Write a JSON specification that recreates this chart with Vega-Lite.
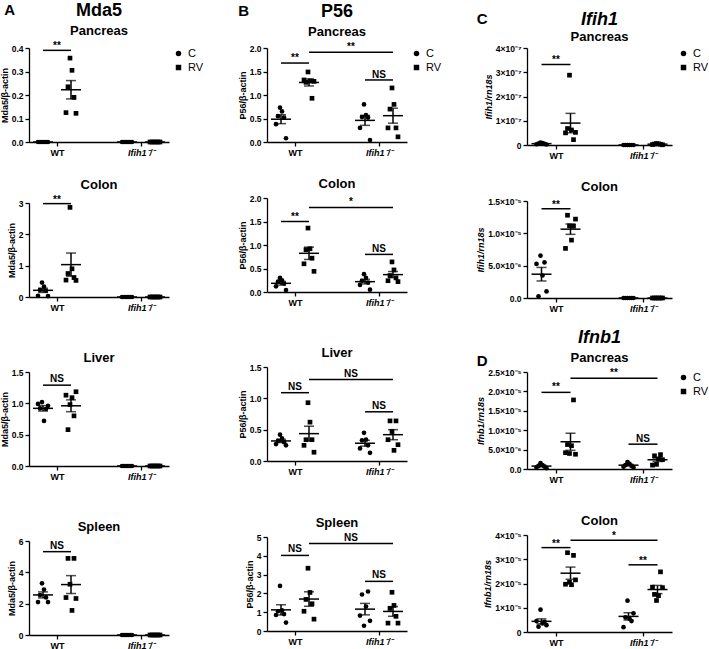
{
"$schema": "https://vega.github.io/schema/vega-lite/v6.json",
"background": "white",
"padding": {"left": 0, "top": 2, "right": 0, "bottom": 0},
"config": {
 "font": "Liberation Sans",
 "view": {"stroke": null},
 "axis": {"grid": false, "labelOverlap": false, "domainColor": "black", "domainWidth": 1.3, "tickColor": "black", "tickWidth": 1.3, "tickSize": 4, "labelColor": "black", "labelFontSize": 8.5, "labelFontWeight": "bold", "titleColor": "black", "titleFontSize": 9, "titleFontWeight": "bold", "labelPadding": 2, "titlePadding": 2},
 "axisX": {"labelFontSize": 9},
 "title": {"fontSize": 13, "fontWeight": "bold", "color": "black", "offset": 3, "subtitleFontSize": 13, "subtitleFontWeight": "bold", "subtitleColor": "black", "subtitlePadding": 5},
 "legend": {"labelFontSize": 11, "labelColor": "black"}
},
"datasets": {
 "mda5_pan": [
  {"group":"WT C","cond":"C","rep":1,"value":0},{"group":"WT C","cond":"C","rep":2,"value":0},{"group":"WT C","cond":"C","rep":3,"value":0},{"group":"WT C","cond":"C","rep":4,"value":0},{"group":"WT C","cond":"C","rep":5,"value":0},{"group":"WT C","cond":"C","rep":6,"value":0},
  {"group":"WT RV","cond":"RV","rep":3,"value":0.357},{"group":"WT RV","cond":"RV","rep":4,"value":0.305},{"group":"WT RV","cond":"RV","rep":2,"value":0.235},{"group":"WT RV","cond":"RV","rep":5,"value":0.19},{"group":"WT RV","cond":"RV","rep":1,"value":0.125},{"group":"WT RV","cond":"RV","rep":6,"value":0.122},
  {"group":"KO C","cond":"C","rep":1,"value":0},{"group":"KO C","cond":"C","rep":2,"value":0},{"group":"KO C","cond":"C","rep":3,"value":0},{"group":"KO C","cond":"C","rep":4,"value":0},{"group":"KO C","cond":"C","rep":5,"value":0},{"group":"KO C","cond":"C","rep":6,"value":0},
  {"group":"KO RV","cond":"RV","rep":1,"value":0},{"group":"KO RV","cond":"RV","rep":2,"value":0},{"group":"KO RV","cond":"RV","rep":3,"value":0},{"group":"KO RV","cond":"RV","rep":4,"value":0},{"group":"KO RV","cond":"RV","rep":5,"value":0},{"group":"KO RV","cond":"RV","rep":6,"value":0}
 ],
 "mda5_col": [
  {"group":"WT C","cond":"C","rep":3,"value":0.46},{"group":"WT C","cond":"C","rep":4,"value":0.33},{"group":"WT C","cond":"C","rep":2,"value":0.22},{"group":"WT C","cond":"C","rep":5,"value":0.2},{"group":"WT C","cond":"C","rep":1,"value":0.04},{"group":"WT C","cond":"C","rep":6,"value":0.03},
  {"group":"WT RV","cond":"RV","rep":3,"value":2.86},{"group":"WT RV","cond":"RV","rep":4,"value":0.9},{"group":"WT RV","cond":"RV","rep":2,"value":0.75},{"group":"WT RV","cond":"RV","rep":5,"value":0.62},{"group":"WT RV","cond":"RV","rep":1,"value":0.54},{"group":"WT RV","cond":"RV","rep":6,"value":0.53},
  {"group":"KO C","cond":"C","rep":1,"value":0},{"group":"KO C","cond":"C","rep":2,"value":0},{"group":"KO C","cond":"C","rep":3,"value":0},{"group":"KO C","cond":"C","rep":4,"value":0},{"group":"KO C","cond":"C","rep":5,"value":0},{"group":"KO C","cond":"C","rep":6,"value":0},
  {"group":"KO RV","cond":"RV","rep":1,"value":0},{"group":"KO RV","cond":"RV","rep":2,"value":0},{"group":"KO RV","cond":"RV","rep":3,"value":0},{"group":"KO RV","cond":"RV","rep":4,"value":0},{"group":"KO RV","cond":"RV","rep":5,"value":0},{"group":"KO RV","cond":"RV","rep":6,"value":0}
 ],
 "mda5_liv": [
  {"group":"WT C","cond":"C","rep":3,"value":1.02},{"group":"WT C","cond":"C","rep":1,"value":0.99},{"group":"WT C","cond":"C","rep":6,"value":0.96},{"group":"WT C","cond":"C","rep":2,"value":0.92},{"group":"WT C","cond":"C","rep":5,"value":0.91},{"group":"WT C","cond":"C","rep":4,"value":0.72},
  {"group":"WT RV","cond":"RV","rep":6,"value":1.185},{"group":"WT RV","cond":"RV","rep":1,"value":1.13},{"group":"WT RV","cond":"RV","rep":4,"value":1.09},{"group":"WT RV","cond":"RV","rep":3,"value":0.98},{"group":"WT RV","cond":"RV","rep":5,"value":0.8},{"group":"WT RV","cond":"RV","rep":2,"value":0.58},
  {"group":"KO C","cond":"C","rep":1,"value":0},{"group":"KO C","cond":"C","rep":2,"value":0},{"group":"KO C","cond":"C","rep":3,"value":0},{"group":"KO C","cond":"C","rep":4,"value":0},{"group":"KO C","cond":"C","rep":5,"value":0},{"group":"KO C","cond":"C","rep":6,"value":0},
  {"group":"KO RV","cond":"RV","rep":1,"value":0},{"group":"KO RV","cond":"RV","rep":2,"value":0},{"group":"KO RV","cond":"RV","rep":3,"value":0},{"group":"KO RV","cond":"RV","rep":4,"value":0},{"group":"KO RV","cond":"RV","rep":5,"value":0},{"group":"KO RV","cond":"RV","rep":6,"value":0}
 ],
 "mda5_spl": [
  {"group":"WT C","cond":"C","rep":3,"value":3.3},{"group":"WT C","cond":"C","rep":4,"value":2.9},{"group":"WT C","cond":"C","rep":2,"value":2.55},{"group":"WT C","cond":"C","rep":5,"value":2.4},{"group":"WT C","cond":"C","rep":1,"value":2.1},{"group":"WT C","cond":"C","rep":6,"value":2.1},
  {"group":"WT RV","cond":"RV","rep":2,"value":4.89},{"group":"WT RV","cond":"RV","rep":5,"value":4.89},{"group":"WT RV","cond":"RV","rep":3,"value":3.24},{"group":"WT RV","cond":"RV","rep":1,"value":2.39},{"group":"WT RV","cond":"RV","rep":6,"value":2.33},{"group":"WT RV","cond":"RV","rep":4,"value":1.57},
  {"group":"KO C","cond":"C","rep":1,"value":0},{"group":"KO C","cond":"C","rep":2,"value":0},{"group":"KO C","cond":"C","rep":3,"value":0},{"group":"KO C","cond":"C","rep":4,"value":0},{"group":"KO C","cond":"C","rep":5,"value":0},{"group":"KO C","cond":"C","rep":6,"value":0},
  {"group":"KO RV","cond":"RV","rep":1,"value":0},{"group":"KO RV","cond":"RV","rep":2,"value":0},{"group":"KO RV","cond":"RV","rep":3,"value":0},{"group":"KO RV","cond":"RV","rep":4,"value":0},{"group":"KO RV","cond":"RV","rep":5,"value":0},{"group":"KO RV","cond":"RV","rep":6,"value":0}
 ],
 "p56_pan": [
  {"group":"WT C","cond":"C","rep":3,"value":0.73},{"group":"WT C","cond":"C","rep":4,"value":0.65},{"group":"WT C","cond":"C","rep":2,"value":0.55},{"group":"WT C","cond":"C","rep":5,"value":0.52},{"group":"WT C","cond":"C","rep":1,"value":0.38},{"group":"WT C","cond":"C","rep":6,"value":0.08},
  {"group":"WT RV","cond":"RV","rep":3,"value":1.49},{"group":"WT RV","cond":"RV","rep":1,"value":1.32},{"group":"WT RV","cond":"RV","rep":4,"value":1.3},{"group":"WT RV","cond":"RV","rep":6,"value":1.29},{"group":"WT RV","cond":"RV","rep":2,"value":1.27},{"group":"WT RV","cond":"RV","rep":5,"value":0.93},
  {"group":"KO C","cond":"C","rep":3,"value":0.8},{"group":"KO C","cond":"C","rep":4,"value":0.57},{"group":"KO C","cond":"C","rep":2,"value":0.53},{"group":"KO C","cond":"C","rep":5,"value":0.52},{"group":"KO C","cond":"C","rep":1,"value":0.3},{"group":"KO C","cond":"C","rep":6,"value":0.04},
  {"group":"KO RV","cond":"RV","rep":3,"value":1.15},{"group":"KO RV","cond":"RV","rep":4,"value":0.8},{"group":"KO RV","cond":"RV","rep":2,"value":0.7},{"group":"KO RV","cond":"RV","rep":5,"value":0.3},{"group":"KO RV","cond":"RV","rep":1,"value":0.3},{"group":"KO RV","cond":"RV","rep":6,"value":0.11}
 ],
 "p56_col": [
  {"group":"WT C","cond":"C","rep":3,"value":0.3},{"group":"WT C","cond":"C","rep":4,"value":0.25},{"group":"WT C","cond":"C","rep":2,"value":0.22},{"group":"WT C","cond":"C","rep":5,"value":0.18},{"group":"WT C","cond":"C","rep":1,"value":0.12},{"group":"WT C","cond":"C","rep":6,"value":0.04},
  {"group":"WT RV","cond":"RV","rep":3,"value":1.36},{"group":"WT RV","cond":"RV","rep":4,"value":0.92},{"group":"WT RV","cond":"RV","rep":2,"value":0.9},{"group":"WT RV","cond":"RV","rep":5,"value":0.72},{"group":"WT RV","cond":"RV","rep":1,"value":0.6},{"group":"WT RV","cond":"RV","rep":6,"value":0.44},
  {"group":"KO C","cond":"C","rep":3,"value":0.38},{"group":"KO C","cond":"C","rep":4,"value":0.3},{"group":"KO C","cond":"C","rep":2,"value":0.24},{"group":"KO C","cond":"C","rep":5,"value":0.2},{"group":"KO C","cond":"C","rep":1,"value":0.15},{"group":"KO C","cond":"C","rep":6,"value":0.05},
  {"group":"KO RV","cond":"RV","rep":3,"value":0.64},{"group":"KO RV","cond":"RV","rep":4,"value":0.47},{"group":"KO RV","cond":"RV","rep":2,"value":0.35},{"group":"KO RV","cond":"RV","rep":5,"value":0.3},{"group":"KO RV","cond":"RV","rep":1,"value":0.24},{"group":"KO RV","cond":"RV","rep":6,"value":0.22}
 ],
 "p56_liv": [
  {"group":"WT C","cond":"C","rep":3,"value":0.42},{"group":"WT C","cond":"C","rep":4,"value":0.36},{"group":"WT C","cond":"C","rep":2,"value":0.32},{"group":"WT C","cond":"C","rep":5,"value":0.3},{"group":"WT C","cond":"C","rep":1,"value":0.27},{"group":"WT C","cond":"C","rep":6,"value":0.25},
  {"group":"WT RV","cond":"RV","rep":3,"value":0.93},{"group":"WT RV","cond":"RV","rep":4,"value":0.62},{"group":"WT RV","cond":"RV","rep":2,"value":0.34},{"group":"WT RV","cond":"RV","rep":5,"value":0.34},{"group":"WT RV","cond":"RV","rep":1,"value":0.25},{"group":"WT RV","cond":"RV","rep":6,"value":0.14},
  {"group":"KO C","cond":"C","rep":3,"value":0.45},{"group":"KO C","cond":"C","rep":4,"value":0.34},{"group":"KO C","cond":"C","rep":2,"value":0.33},{"group":"KO C","cond":"C","rep":5,"value":0.25},{"group":"KO C","cond":"C","rep":1,"value":0.2},{"group":"KO C","cond":"C","rep":6,"value":0.13},
  {"group":"KO RV","cond":"RV","rep":2,"value":0.64},{"group":"KO RV","cond":"RV","rep":5,"value":0.64},{"group":"KO RV","cond":"RV","rep":3,"value":0.47},{"group":"KO RV","cond":"RV","rep":1,"value":0.34},{"group":"KO RV","cond":"RV","rep":6,"value":0.26},{"group":"KO RV","cond":"RV","rep":4,"value":0.17}
 ],
 "p56_spl": [
  {"group":"WT C","cond":"C","rep":3,"value":2.4},{"group":"WT C","cond":"C","rep":4,"value":1.1},{"group":"WT C","cond":"C","rep":2,"value":1.05},{"group":"WT C","cond":"C","rep":5,"value":0.9},{"group":"WT C","cond":"C","rep":1,"value":0.85},{"group":"WT C","cond":"C","rep":6,"value":0.45},
  {"group":"WT RV","cond":"RV","rep":3,"value":3.34},{"group":"WT RV","cond":"RV","rep":4,"value":2.05},{"group":"WT RV","cond":"RV","rep":2,"value":1.68},{"group":"WT RV","cond":"RV","rep":5,"value":1.45},{"group":"WT RV","cond":"RV","rep":1,"value":1.05},{"group":"WT RV","cond":"RV","rep":6,"value":0.63},
  {"group":"KO C","cond":"C","rep":5,"value":2.1},{"group":"KO C","cond":"C","rep":2,"value":1.94},{"group":"KO C","cond":"C","rep":4,"value":1.3},{"group":"KO C","cond":"C","rep":1,"value":0.82},{"group":"KO C","cond":"C","rep":6,"value":0.54},{"group":"KO C","cond":"C","rep":3,"value":0.28},
  {"group":"KO RV","cond":"RV","rep":3,"value":2.06},{"group":"KO RV","cond":"RV","rep":4,"value":1.36},{"group":"KO RV","cond":"RV","rep":2,"value":1.2},{"group":"KO RV","cond":"RV","rep":5,"value":0.78},{"group":"KO RV","cond":"RV","rep":1,"value":0.42},{"group":"KO RV","cond":"RV","rep":6,"value":0.42}
 ],
 "ifih1_pan": [
  {"group":"WT C","cond":"C","rep":3,"value":1.0e-8},{"group":"WT C","cond":"C","rep":4,"value":8e-9},{"group":"WT C","cond":"C","rep":2,"value":6e-9},{"group":"WT C","cond":"C","rep":5,"value":5e-9},{"group":"WT C","cond":"C","rep":1,"value":3e-9},{"group":"WT C","cond":"C","rep":6,"value":2e-9},
  {"group":"WT RV","cond":"RV","rep":3,"value":2.88e-7},{"group":"WT RV","cond":"RV","rep":2,"value":6.8e-8},{"group":"WT RV","cond":"RV","rep":4,"value":6.2e-8},{"group":"WT RV","cond":"RV","rep":6,"value":5.2e-8},{"group":"WT RV","cond":"RV","rep":1,"value":5.0e-8},{"group":"WT RV","cond":"RV","rep":5,"value":2.2e-8},
  {"group":"KO C","cond":"C","rep":1,"value":0},{"group":"KO C","cond":"C","rep":2,"value":0},{"group":"KO C","cond":"C","rep":3,"value":0},{"group":"KO C","cond":"C","rep":4,"value":0},{"group":"KO C","cond":"C","rep":5,"value":0},{"group":"KO C","cond":"C","rep":6,"value":0},
  {"group":"KO RV","cond":"RV","rep":3,"value":6e-9},{"group":"KO RV","cond":"RV","rep":4,"value":5e-9},{"group":"KO RV","cond":"RV","rep":2,"value":4e-9},{"group":"KO RV","cond":"RV","rep":5,"value":3e-9},{"group":"KO RV","cond":"RV","rep":1,"value":2e-9},{"group":"KO RV","cond":"RV","rep":6,"value":1e-9}
 ],
 "ifih1_col": [
  {"group":"WT C","cond":"C","rep":3,"value":6.55e-6},{"group":"WT C","cond":"C","rep":5,"value":5.5e-6},{"group":"WT C","cond":"C","rep":1,"value":5.27e-6},{"group":"WT C","cond":"C","rep":4,"value":3.48e-6},{"group":"WT C","cond":"C","rep":6,"value":1.02e-6},{"group":"WT C","cond":"C","rep":2,"value":2.6e-7},
  {"group":"WT RV","cond":"RV","rep":2,"value":1.28e-5},{"group":"WT RV","cond":"RV","rep":6,"value":1.22e-5},{"group":"WT RV","cond":"RV","rep":3,"value":1.115e-5},{"group":"WT RV","cond":"RV","rep":5,"value":1.11e-5},{"group":"WT RV","cond":"RV","rep":4,"value":8.95e-6},{"group":"WT RV","cond":"RV","rep":1,"value":7.67e-6},
  {"group":"KO C","cond":"C","rep":1,"value":0},{"group":"KO C","cond":"C","rep":2,"value":0},{"group":"KO C","cond":"C","rep":3,"value":0},{"group":"KO C","cond":"C","rep":4,"value":0},{"group":"KO C","cond":"C","rep":5,"value":0},{"group":"KO C","cond":"C","rep":6,"value":0},
  {"group":"KO RV","cond":"RV","rep":1,"value":0},{"group":"KO RV","cond":"RV","rep":2,"value":0},{"group":"KO RV","cond":"RV","rep":3,"value":0},{"group":"KO RV","cond":"RV","rep":4,"value":0},{"group":"KO RV","cond":"RV","rep":5,"value":0},{"group":"KO RV","cond":"RV","rep":6,"value":0}
 ],
 "ifnb1_pan": [
  {"group":"WT C","cond":"C","rep":3,"value":1.5e-6},{"group":"WT C","cond":"C","rep":4,"value":1.0e-6},{"group":"WT C","cond":"C","rep":2,"value":8e-7},{"group":"WT C","cond":"C","rep":5,"value":6e-7},{"group":"WT C","cond":"C","rep":1,"value":4e-7},{"group":"WT C","cond":"C","rep":6,"value":2e-7},
  {"group":"WT RV","cond":"RV","rep":5,"value":1.78e-5},{"group":"WT RV","cond":"RV","rep":2,"value":6.3e-6},{"group":"WT RV","cond":"RV","rep":4,"value":6.0e-6},{"group":"WT RV","cond":"RV","rep":1,"value":4.2e-6},{"group":"WT RV","cond":"RV","rep":3,"value":4.0e-6},{"group":"WT RV","cond":"RV","rep":6,"value":3.8e-6},
  {"group":"KO C","cond":"C","rep":3,"value":1.8e-6},{"group":"KO C","cond":"C","rep":4,"value":1.3e-6},{"group":"KO C","cond":"C","rep":2,"value":1.0e-6},{"group":"KO C","cond":"C","rep":5,"value":8e-7},{"group":"KO C","cond":"C","rep":1,"value":6e-7},{"group":"KO C","cond":"C","rep":6,"value":4e-7},
  {"group":"KO RV","cond":"RV","rep":5,"value":3.7e-6},{"group":"KO RV","cond":"RV","rep":2,"value":3.4e-6},{"group":"KO RV","cond":"RV","rep":4,"value":2.6e-6},{"group":"KO RV","cond":"RV","rep":6,"value":2.4e-6},{"group":"KO RV","cond":"RV","rep":3,"value":1.2e-6},{"group":"KO RV","cond":"RV","rep":1,"value":1.0e-6}
 ],
 "ifnb1_col": [
  {"group":"WT C","cond":"C","rep":3,"value":9.2e-6},{"group":"WT C","cond":"C","rep":1,"value":4.5e-6},{"group":"WT C","cond":"C","rep":5,"value":4.2e-6},{"group":"WT C","cond":"C","rep":4,"value":3.5e-6},{"group":"WT C","cond":"C","rep":6,"value":2.8e-6},{"group":"WT C","cond":"C","rep":2,"value":2.2e-6},
  {"group":"WT RV","cond":"RV","rep":2,"value":3.27e-5},{"group":"WT RV","cond":"RV","rep":5,"value":3.16e-5},{"group":"WT RV","cond":"RV","rep":6,"value":2.15e-5},{"group":"WT RV","cond":"RV","rep":3,"value":2.05e-5},{"group":"WT RV","cond":"RV","rep":1,"value":1.97e-5},{"group":"WT RV","cond":"RV","rep":4,"value":1.95e-5},
  {"group":"KO C","cond":"C","rep":3,"value":1.29e-5},{"group":"KO C","cond":"C","rep":6,"value":7.7e-6},{"group":"KO C","cond":"C","rep":2,"value":6.0e-6},{"group":"KO C","cond":"C","rep":4,"value":5.5e-6},{"group":"KO C","cond":"C","rep":5,"value":4.5e-6},{"group":"KO C","cond":"C","rep":1,"value":2.0e-6},
  {"group":"KO RV","cond":"RV","rep":5,"value":2.48e-5},{"group":"KO RV","cond":"RV","rep":1,"value":1.85e-5},{"group":"KO RV","cond":"RV","rep":6,"value":1.83e-5},{"group":"KO RV","cond":"RV","rep":2,"value":1.55e-5},{"group":"KO RV","cond":"RV","rep":4,"value":1.5e-5},{"group":"KO RV","cond":"RV","rep":3,"value":1.3e-5}
 ]
},
"spacing": 34,
"resolve": {"scale": {"shape": "independent"}, "legend": {"shape": "independent"}},
"hconcat": [
 {
  "title": {"text": "A", "anchor": "start", "fontSize": 15, "offset": 0, "dy": 16, "dx": 4},
  "spacing": 40,
  "resolve": {"scale": {"shape": "independent"}, "legend": {"shape": "independent"}},
  "vconcat": [
  {"spacing": 21, "resolve": {"scale": {"shape": "independent"}, "legend": {"shape": "independent"}}, "vconcat": [
   {"width": 140, "height": 94, "title": {"text": "Mda5", "subtitle": "Pancreas", "fontSize": 18}, "data": {"name": "mda5_pan"},
    "layer": [
     {"mark": {"type": "point", "filled": true, "color": "black", "size": 22, "opacity": 1},
      "encoding": {
       "x": {"field": "group", "type": "nominal", "scale": {"type": "point", "domain": ["WT C","WT","WT RV","g1","g2","mid","KO C","KO","KO RV"], "padding": 1.5}, "axis": {"title": null, "values": ["WT","KO"], "labelAngle": 0, "labelExpr": "datum.value == 'KO' ? 'Ifih1⁻/⁻' : 'WT'", "labelFontStyle": {"condition": {"test": "datum.value == 'KO'", "value": "italic"}, "value": "normal"}}},
       "xOffset": {"field": "rep", "type": "nominal", "scale": {"type": "point", "range": [-6, 6]}},
       "y": {"field": "value", "type": "quantitative", "title": "Mda5/β-actin", "scale": {"domain": [0, 0.4], "nice": false}, "axis": {"labelOverlap": false, "tickCount": 4, "format": ".1f"}},
       "shape": {"field": "cond", "type": "nominal", "scale": {"domain": ["C","RV"], "range": ["circle","square"]}, "legend": {"title": null, "orient": "right", "offset": 4, "labelFontSize": 11, "labelFontWeight": "normal", "symbolSize": 30, "rowPadding": 1, "padding": 0, "symbolFillColor": "black", "symbolStrokeColor": "black"}}}},
     {"mark": {"type": "tick", "color": "black", "size": 20, "thickness": 1.5}, "encoding": {"x": {"field": "group", "type": "nominal"}, "y": {"aggregate": "mean", "field": "value", "type": "quantitative", "title": "Mda5/β-actin"}}},
     {"mark": {"type": "errorbar", "extent": "stderr", "color": "black", "ticks": true, "size": 10, "thickness": 1.5}, "encoding": {"x": {"field": "group", "type": "nominal"}, "y": {"field": "value", "type": "quantitative", "title": "Mda5/β-actin"}}},
     {"data": {"values": [{"from": "WT C", "to": "WT RV", "mid": "WT", "y": 0.39, "label": "**"}]}, "mark": {"type": "rule", "color": "black", "strokeWidth": 1.5}, "encoding": {"x": {"field": "from", "type": "nominal"}, "x2": {"field": "to"}, "y": {"field": "y", "type": "quantitative", "title": "Mda5/β-actin"}}},
     {"data": {"values": [{"from": "WT C", "to": "WT RV", "mid": "WT", "y": 0.39, "label": "**"}]}, "mark": {"type": "text", "fontWeight": "bold", "fontSize": 10, "baseline": "bottom", "dy": 1, "color": "black"}, "encoding": {"x": {"field": "mid", "type": "nominal"}, "y": {"field": "y", "type": "quantitative", "title": "Mda5/β-actin"}, "text": {"field": "label"}}}
    ]},
   {"width": 140, "height": 94, "title": "Colon", "data": {"name": "mda5_col"},
    "layer": [
     {"mark": {"type": "point", "filled": true, "color": "black", "size": 22, "opacity": 1},
      "encoding": {
       "x": {"field": "group", "type": "nominal", "scale": {"type": "point", "domain": ["WT C","WT","WT RV","g1","g2","mid","KO C","KO","KO RV"], "padding": 1.5}, "axis": {"title": null, "values": ["WT","KO"], "labelAngle": 0, "labelExpr": "datum.value == 'KO' ? 'Ifih1⁻/⁻' : 'WT'", "labelFontStyle": {"condition": {"test": "datum.value == 'KO'", "value": "italic"}, "value": "normal"}}},
       "xOffset": {"field": "rep", "type": "nominal", "scale": {"type": "point", "range": [-6, 6]}},
       "y": {"field": "value", "type": "quantitative", "title": "Mda5/β-actin", "scale": {"domain": [0, 3], "nice": false}, "axis": {"labelOverlap": false, "tickCount": 3, "format": "d"}},
       "shape": {"field": "cond", "type": "nominal", "scale": {"domain": ["C","RV"], "range": ["circle","square"]}, "legend": null}}},
     {"mark": {"type": "tick", "color": "black", "size": 20, "thickness": 1.5}, "encoding": {"x": {"field": "group", "type": "nominal"}, "y": {"aggregate": "mean", "field": "value", "type": "quantitative", "title": "Mda5/β-actin"}}},
     {"mark": {"type": "errorbar", "extent": "stderr", "color": "black", "ticks": true, "size": 10, "thickness": 1.5}, "encoding": {"x": {"field": "group", "type": "nominal"}, "y": {"field": "value", "type": "quantitative", "title": "Mda5/β-actin"}}},
     {"data": {"values": [{"from": "WT C", "to": "WT RV", "mid": "WT", "y": 2.98, "label": "**"}]}, "mark": {"type": "rule", "color": "black", "strokeWidth": 1.5}, "encoding": {"x": {"field": "from", "type": "nominal"}, "x2": {"field": "to"}, "y": {"field": "y", "type": "quantitative", "title": "Mda5/β-actin"}}},
     {"data": {"values": [{"from": "WT C", "to": "WT RV", "mid": "WT", "y": 2.98, "label": "**"}]}, "mark": {"type": "text", "fontWeight": "bold", "fontSize": 10, "baseline": "bottom", "dy": 1, "color": "black"}, "encoding": {"x": {"field": "mid", "type": "nominal"}, "y": {"field": "y", "type": "quantitative", "title": "Mda5/β-actin"}, "text": {"field": "label"}}}
    ]}
  ]},
  {"spacing": 40, "resolve": {"scale": {"shape": "independent"}, "legend": {"shape": "independent"}}, "vconcat": [
   {"width": 140, "height": 94, "title": "Liver", "data": {"name": "mda5_liv"},
    "layer": [
     {"mark": {"type": "point", "filled": true, "color": "black", "size": 22, "opacity": 1},
      "encoding": {
       "x": {"field": "group", "type": "nominal", "scale": {"type": "point", "domain": ["WT C","WT","WT RV","g1","g2","mid","KO C","KO","KO RV"], "padding": 1.5}, "axis": {"title": null, "values": ["WT","KO"], "labelAngle": 0, "labelExpr": "datum.value == 'KO' ? 'Ifih1⁻/⁻' : 'WT'", "labelFontStyle": {"condition": {"test": "datum.value == 'KO'", "value": "italic"}, "value": "normal"}}},
       "xOffset": {"field": "rep", "type": "nominal", "scale": {"type": "point", "range": [-6, 6]}},
       "y": {"field": "value", "type": "quantitative", "title": "Mda5/β-actin", "scale": {"domain": [0, 1.5], "nice": false}, "axis": {"labelOverlap": false, "tickCount": 3, "format": ".1f"}},
       "shape": {"field": "cond", "type": "nominal", "scale": {"domain": ["C","RV"], "range": ["circle","square"]}, "legend": null}}},
     {"mark": {"type": "tick", "color": "black", "size": 20, "thickness": 1.5}, "encoding": {"x": {"field": "group", "type": "nominal"}, "y": {"aggregate": "mean", "field": "value", "type": "quantitative", "title": "Mda5/β-actin"}}},
     {"mark": {"type": "errorbar", "extent": "stderr", "color": "black", "ticks": true, "size": 10, "thickness": 1.5}, "encoding": {"x": {"field": "group", "type": "nominal"}, "y": {"field": "value", "type": "quantitative", "title": "Mda5/β-actin"}}},
     {"data": {"values": [{"from": "WT C", "to": "WT RV", "mid": "WT", "y": 1.29, "label": "NS"}]}, "mark": {"type": "rule", "color": "black", "strokeWidth": 1.5}, "encoding": {"x": {"field": "from", "type": "nominal"}, "x2": {"field": "to"}, "y": {"field": "y", "type": "quantitative", "title": "Mda5/β-actin"}}},
     {"data": {"values": [{"from": "WT C", "to": "WT RV", "mid": "WT", "y": 1.29, "label": "NS"}]}, "mark": {"type": "text", "fontWeight": "bold", "fontSize": 10, "baseline": "bottom", "dy": -1, "color": "black"}, "encoding": {"x": {"field": "mid", "type": "nominal"}, "y": {"field": "y", "type": "quantitative", "title": "Mda5/β-actin"}, "text": {"field": "label"}}}
    ]},
   {"width": 140, "height": 94, "title": "Spleen", "data": {"name": "mda5_spl"},
    "layer": [
     {"mark": {"type": "point", "filled": true, "color": "black", "size": 22, "opacity": 1},
      "encoding": {
       "x": {"field": "group", "type": "nominal", "scale": {"type": "point", "domain": ["WT C","WT","WT RV","g1","g2","mid","KO C","KO","KO RV"], "padding": 1.5}, "axis": {"title": null, "values": ["WT","KO"], "labelAngle": 0, "labelExpr": "datum.value == 'KO' ? 'Ifih1⁻/⁻' : 'WT'", "labelFontStyle": {"condition": {"test": "datum.value == 'KO'", "value": "italic"}, "value": "normal"}}},
       "xOffset": {"field": "rep", "type": "nominal", "scale": {"type": "point", "range": [-6, 6]}},
       "y": {"field": "value", "type": "quantitative", "title": "Mda5/β-actin", "scale": {"domain": [0, 6], "nice": false}, "axis": {"labelOverlap": false, "tickCount": 3, "format": "d"}},
       "shape": {"field": "cond", "type": "nominal", "scale": {"domain": ["C","RV"], "range": ["circle","square"]}, "legend": null}}},
     {"mark": {"type": "tick", "color": "black", "size": 20, "thickness": 1.5}, "encoding": {"x": {"field": "group", "type": "nominal"}, "y": {"aggregate": "mean", "field": "value", "type": "quantitative", "title": "Mda5/β-actin"}}},
     {"mark": {"type": "errorbar", "extent": "stderr", "color": "black", "ticks": true, "size": 10, "thickness": 1.5}, "encoding": {"x": {"field": "group", "type": "nominal"}, "y": {"field": "value", "type": "quantitative", "title": "Mda5/β-actin"}}},
     {"data": {"values": [{"from": "WT C", "to": "WT RV", "mid": "WT", "y": 5.32, "label": "NS"}]}, "mark": {"type": "rule", "color": "black", "strokeWidth": 1.5}, "encoding": {"x": {"field": "from", "type": "nominal"}, "x2": {"field": "to"}, "y": {"field": "y", "type": "quantitative", "title": "Mda5/β-actin"}}},
     {"data": {"values": [{"from": "WT C", "to": "WT RV", "mid": "WT", "y": 5.32, "label": "NS"}]}, "mark": {"type": "text", "fontWeight": "bold", "fontSize": 10, "baseline": "bottom", "dy": -1, "color": "black"}, "encoding": {"x": {"field": "mid", "type": "nominal"}, "y": {"field": "y", "type": "quantitative", "title": "Mda5/β-actin"}, "text": {"field": "label"}}}
    ]}
  ]}
  ]
 },
 {
  "title": {"text": "B", "anchor": "start", "fontSize": 15, "offset": 0, "dy": 16},
  "spacing": 40,
  "resolve": {"scale": {"shape": "independent"}, "legend": {"shape": "independent"}},
  "vconcat": [
  {"spacing": 21, "resolve": {"scale": {"shape": "independent"}, "legend": {"shape": "independent"}}, "vconcat": [
   {"width": 140, "height": 94, "title": {"text": "P56", "subtitle": "Pancreas", "fontSize": 18}, "data": {"name": "p56_pan"},
    "layer": [
     {"mark": {"type": "point", "filled": true, "color": "black", "size": 22, "opacity": 1},
      "encoding": {
       "x": {"field": "group", "type": "nominal", "scale": {"type": "point", "domain": ["WT C","WT","WT RV","g1","g2","mid","KO C","KO","KO RV"], "padding": 1.5}, "axis": {"title": null, "values": ["WT","KO"], "labelAngle": 0, "labelExpr": "datum.value == 'KO' ? 'Ifih1⁻/⁻' : 'WT'", "labelFontStyle": {"condition": {"test": "datum.value == 'KO'", "value": "italic"}, "value": "normal"}}},
       "xOffset": {"field": "rep", "type": "nominal", "scale": {"type": "point", "range": [-6, 6]}},
       "y": {"field": "value", "type": "quantitative", "title": "P56/β-actin", "scale": {"domain": [0, 2], "nice": false}, "axis": {"labelOverlap": false, "tickCount": 4, "format": ".1f"}},
       "shape": {"field": "cond", "type": "nominal", "scale": {"domain": ["C","RV"], "range": ["circle","square"]}, "legend": {"title": null, "orient": "right", "offset": 4, "labelFontSize": 11, "labelFontWeight": "normal", "symbolSize": 30, "rowPadding": 1, "padding": 0, "symbolFillColor": "black", "symbolStrokeColor": "black"}}}},
     {"mark": {"type": "tick", "color": "black", "size": 20, "thickness": 1.5}, "encoding": {"x": {"field": "group", "type": "nominal"}, "y": {"aggregate": "mean", "field": "value", "type": "quantitative", "title": "P56/β-actin"}}},
     {"mark": {"type": "errorbar", "extent": "stderr", "color": "black", "ticks": true, "size": 10, "thickness": 1.5}, "encoding": {"x": {"field": "group", "type": "nominal"}, "y": {"field": "value", "type": "quantitative", "title": "P56/β-actin"}}},
     {"data": {"values": [{"from": "WT C", "to": "WT RV", "mid": "WT", "y": 1.68, "label": "**"}, {"from": "WT RV", "to": "KO RV", "mid": "mid", "y": 1.91, "label": "**"}, {"from": "KO C", "to": "KO RV", "mid": "KO", "y": 1.32, "label": "NS"}]}, "mark": {"type": "rule", "color": "black", "strokeWidth": 1.5}, "encoding": {"x": {"field": "from", "type": "nominal"}, "x2": {"field": "to"}, "y": {"field": "y", "type": "quantitative", "title": "P56/β-actin"}}},
     {"data": {"values": [{"from": "WT C", "to": "WT RV", "mid": "WT", "y": 1.68, "label": "**"}, {"from": "WT RV", "to": "KO RV", "mid": "mid", "y": 1.91, "label": "**"}, {"from": "KO C", "to": "KO RV", "mid": "KO", "y": 1.32, "label": "NS"}]}, "mark": {"type": "text", "fontWeight": "bold", "fontSize": 10, "baseline": "bottom", "dy": 0, "color": "black"}, "encoding": {"x": {"field": "mid", "type": "nominal"}, "y": {"field": "y", "type": "quantitative", "title": "P56/β-actin"}, "text": {"field": "label"}}}
    ]},
   {"width": 140, "height": 94, "title": "Colon", "data": {"name": "p56_col"},
    "layer": [
     {"mark": {"type": "point", "filled": true, "color": "black", "size": 22, "opacity": 1},
      "encoding": {
       "x": {"field": "group", "type": "nominal", "scale": {"type": "point", "domain": ["WT C","WT","WT RV","g1","g2","mid","KO C","KO","KO RV"], "padding": 1.5}, "axis": {"title": null, "values": ["WT","KO"], "labelAngle": 0, "labelExpr": "datum.value == 'KO' ? 'Ifih1⁻/⁻' : 'WT'", "labelFontStyle": {"condition": {"test": "datum.value == 'KO'", "value": "italic"}, "value": "normal"}}},
       "xOffset": {"field": "rep", "type": "nominal", "scale": {"type": "point", "range": [-6, 6]}},
       "y": {"field": "value", "type": "quantitative", "title": "P56/β-actin", "scale": {"domain": [0, 2], "nice": false}, "axis": {"labelOverlap": false, "tickCount": 4, "format": ".1f"}},
       "shape": {"field": "cond", "type": "nominal", "scale": {"domain": ["C","RV"], "range": ["circle","square"]}, "legend": null}}},
     {"mark": {"type": "tick", "color": "black", "size": 20, "thickness": 1.5}, "encoding": {"x": {"field": "group", "type": "nominal"}, "y": {"aggregate": "mean", "field": "value", "type": "quantitative", "title": "P56/β-actin"}}},
     {"mark": {"type": "errorbar", "extent": "stderr", "color": "black", "ticks": true, "size": 10, "thickness": 1.5}, "encoding": {"x": {"field": "group", "type": "nominal"}, "y": {"field": "value", "type": "quantitative", "title": "P56/β-actin"}}},
     {"data": {"values": [{"from": "WT C", "to": "WT RV", "mid": "WT", "y": 1.5, "label": "**"}, {"from": "WT RV", "to": "KO RV", "mid": "mid", "y": 1.8, "label": "*"}, {"from": "KO C", "to": "KO RV", "mid": "KO", "y": 0.8, "label": "NS"}]}, "mark": {"type": "rule", "color": "black", "strokeWidth": 1.5}, "encoding": {"x": {"field": "from", "type": "nominal"}, "x2": {"field": "to"}, "y": {"field": "y", "type": "quantitative", "title": "P56/β-actin"}}},
     {"data": {"values": [{"from": "WT C", "to": "WT RV", "mid": "WT", "y": 1.5, "label": "**"}, {"from": "WT RV", "to": "KO RV", "mid": "mid", "y": 1.8, "label": "*"}, {"from": "KO C", "to": "KO RV", "mid": "KO", "y": 0.8, "label": "NS"}]}, "mark": {"type": "text", "fontWeight": "bold", "fontSize": 10, "baseline": "bottom", "dy": 0, "color": "black"}, "encoding": {"x": {"field": "mid", "type": "nominal"}, "y": {"field": "y", "type": "quantitative", "title": "P56/β-actin"}, "text": {"field": "label"}}}
    ]}
  ]},
  {"spacing": 40, "resolve": {"scale": {"shape": "independent"}, "legend": {"shape": "independent"}}, "vconcat": [
   {"width": 140, "height": 94, "title": "Liver", "data": {"name": "p56_liv"},
    "layer": [
     {"mark": {"type": "point", "filled": true, "color": "black", "size": 22, "opacity": 1},
      "encoding": {
       "x": {"field": "group", "type": "nominal", "scale": {"type": "point", "domain": ["WT C","WT","WT RV","g1","g2","mid","KO C","KO","KO RV"], "padding": 1.5}, "axis": {"title": null, "values": ["WT","KO"], "labelAngle": 0, "labelExpr": "datum.value == 'KO' ? 'Ifih1⁻/⁻' : 'WT'", "labelFontStyle": {"condition": {"test": "datum.value == 'KO'", "value": "italic"}, "value": "normal"}}},
       "xOffset": {"field": "rep", "type": "nominal", "scale": {"type": "point", "range": [-6, 6]}},
       "y": {"field": "value", "type": "quantitative", "title": "P56/β-actin", "scale": {"domain": [0, 1.5], "nice": false}, "axis": {"labelOverlap": false, "tickCount": 3, "format": ".1f"}},
       "shape": {"field": "cond", "type": "nominal", "scale": {"domain": ["C","RV"], "range": ["circle","square"]}, "legend": null}}},
     {"mark": {"type": "tick", "color": "black", "size": 20, "thickness": 1.5}, "encoding": {"x": {"field": "group", "type": "nominal"}, "y": {"aggregate": "mean", "field": "value", "type": "quantitative", "title": "P56/β-actin"}}},
     {"mark": {"type": "errorbar", "extent": "stderr", "color": "black", "ticks": true, "size": 10, "thickness": 1.5}, "encoding": {"x": {"field": "group", "type": "nominal"}, "y": {"field": "value", "type": "quantitative", "title": "P56/β-actin"}}},
     {"data": {"values": [{"from": "WT C", "to": "WT RV", "mid": "WT", "y": 1.09, "label": "NS"}, {"from": "WT RV", "to": "KO RV", "mid": "mid", "y": 1.3, "label": "NS"}, {"from": "KO C", "to": "KO RV", "mid": "KO", "y": 0.785, "label": "NS"}]}, "mark": {"type": "rule", "color": "black", "strokeWidth": 1.5}, "encoding": {"x": {"field": "from", "type": "nominal"}, "x2": {"field": "to"}, "y": {"field": "y", "type": "quantitative", "title": "P56/β-actin"}}},
     {"data": {"values": [{"from": "WT C", "to": "WT RV", "mid": "WT", "y": 1.09, "label": "NS"}, {"from": "WT RV", "to": "KO RV", "mid": "mid", "y": 1.3, "label": "NS"}, {"from": "KO C", "to": "KO RV", "mid": "KO", "y": 0.785, "label": "NS"}]}, "mark": {"type": "text", "fontWeight": "bold", "fontSize": 10, "baseline": "bottom", "dy": -1, "color": "black"}, "encoding": {"x": {"field": "mid", "type": "nominal"}, "y": {"field": "y", "type": "quantitative", "title": "P56/β-actin"}, "text": {"field": "label"}}}
    ]},
   {"width": 140, "height": 94, "title": "Spleen", "data": {"name": "p56_spl"},
    "layer": [
     {"mark": {"type": "point", "filled": true, "color": "black", "size": 22, "opacity": 1},
      "encoding": {
       "x": {"field": "group", "type": "nominal", "scale": {"type": "point", "domain": ["WT C","WT","WT RV","g1","g2","mid","KO C","KO","KO RV"], "padding": 1.5}, "axis": {"title": null, "values": ["WT","KO"], "labelAngle": 0, "labelExpr": "datum.value == 'KO' ? 'Ifih1⁻/⁻' : 'WT'", "labelFontStyle": {"condition": {"test": "datum.value == 'KO'", "value": "italic"}, "value": "normal"}}},
       "xOffset": {"field": "rep", "type": "nominal", "scale": {"type": "point", "range": [-6, 6]}},
       "y": {"field": "value", "type": "quantitative", "title": "P56/β-actin", "scale": {"domain": [0, 5], "nice": false}, "axis": {"labelOverlap": false, "tickCount": 5, "format": "d"}},
       "shape": {"field": "cond", "type": "nominal", "scale": {"domain": ["C","RV"], "range": ["circle","square"]}, "legend": null}}},
     {"mark": {"type": "tick", "color": "black", "size": 20, "thickness": 1.5}, "encoding": {"x": {"field": "group", "type": "nominal"}, "y": {"aggregate": "mean", "field": "value", "type": "quantitative", "title": "P56/β-actin"}}},
     {"mark": {"type": "errorbar", "extent": "stderr", "color": "black", "ticks": true, "size": 10, "thickness": 1.5}, "encoding": {"x": {"field": "group", "type": "nominal"}, "y": {"field": "value", "type": "quantitative", "title": "P56/β-actin"}}},
     {"data": {"values": [{"from": "WT C", "to": "WT RV", "mid": "WT", "y": 4.02, "label": "NS"}, {"from": "WT RV", "to": "KO RV", "mid": "mid", "y": 4.65, "label": "NS"}, {"from": "KO C", "to": "KO RV", "mid": "KO", "y": 2.64, "label": "NS"}]}, "mark": {"type": "rule", "color": "black", "strokeWidth": 1.5}, "encoding": {"x": {"field": "from", "type": "nominal"}, "x2": {"field": "to"}, "y": {"field": "y", "type": "quantitative", "title": "P56/β-actin"}}},
     {"data": {"values": [{"from": "WT C", "to": "WT RV", "mid": "WT", "y": 4.02, "label": "NS"}, {"from": "WT RV", "to": "KO RV", "mid": "mid", "y": 4.65, "label": "NS"}, {"from": "KO C", "to": "KO RV", "mid": "KO", "y": 2.64, "label": "NS"}]}, "mark": {"type": "text", "fontWeight": "bold", "fontSize": 10, "baseline": "bottom", "dy": -1, "color": "black"}, "encoding": {"x": {"field": "mid", "type": "nominal"}, "y": {"field": "y", "type": "quantitative", "title": "P56/β-actin"}, "text": {"field": "label"}}}
    ]}
  ]}
  ]
 },
 {
  "title": {"text": "C", "anchor": "start", "fontSize": 15, "offset": 0, "dy": 16},
  "spacing": 16,
  "resolve": {"scale": {"shape": "independent"}, "legend": {"shape": "independent"}},
  "vconcat": [
   {
    "spacing": 21,
    "resolve": {"scale": {"shape": "independent"}, "legend": {"shape": "independent"}},
    "vconcat": [
     {"width": 145, "height": 97, "title": {"text": "Ifih1", "subtitle": "Pancreas", "fontSize": 18, "fontStyle": "italic", "offset": 0, "subtitlePadding": 2}, "data": {"name": "ifih1_pan"},
      "layer": [
       {"mark": {"type": "point", "filled": true, "color": "black", "size": 22, "opacity": 1},
        "encoding": {
         "x": {"field": "group", "type": "nominal", "scale": {"type": "point", "domain": ["WT C","WT","WT RV","g1","g2","mid","KO C","KO","KO RV"], "padding": 1.5}, "axis": {"title": null, "values": ["WT","KO"], "labelAngle": 0, "labelExpr": "datum.value == 'KO' ? 'Ifih1⁻/⁻' : 'WT'", "labelFontStyle": {"condition": {"test": "datum.value == 'KO'", "value": "italic"}, "value": "normal"}}},
         "xOffset": {"field": "rep", "type": "nominal", "scale": {"type": "point", "range": [-6, 6]}},
         "y": {"field": "value", "type": "quantitative", "title": "Ifih1/rn18s", "scale": {"domain": [0, 4e-7], "nice": false}, "axis": {"labelOverlap": false, "titleFontStyle": "italic", "tickCount": 4, "labelExpr": "datum.value == 0 ? '0' : format(datum.value * 1e7, 'd') + '×10⁻⁷'"}},
         "shape": {"field": "cond", "type": "nominal", "scale": {"domain": ["C","RV"], "range": ["circle","square"]}, "legend": {"title": null, "orient": "right", "offset": 6, "labelFontSize": 11, "labelFontWeight": "normal", "symbolSize": 30, "rowPadding": 1, "padding": 0, "symbolFillColor": "black", "symbolStrokeColor": "black"}}}},
       {"mark": {"type": "tick", "color": "black", "size": 20, "thickness": 1.5}, "encoding": {"x": {"field": "group", "type": "nominal"}, "y": {"aggregate": "mean", "field": "value", "type": "quantitative", "title": "Ifih1/rn18s"}}},
       {"mark": {"type": "errorbar", "extent": "stderr", "color": "black", "ticks": true, "size": 10, "thickness": 1.5}, "encoding": {"x": {"field": "group", "type": "nominal"}, "y": {"field": "value", "type": "quantitative", "title": "Ifih1/rn18s"}}},
       {"data": {"values": [{"from": "WT C", "to": "WT RV", "mid": "WT", "y": 3.32e-7, "label": "**"}]}, "mark": {"type": "rule", "color": "black", "strokeWidth": 1.5}, "encoding": {"x": {"field": "from", "type": "nominal"}, "x2": {"field": "to"}, "y": {"field": "y", "type": "quantitative", "title": "Ifih1/rn18s"}}},
       {"data": {"values": [{"from": "WT C", "to": "WT RV", "mid": "WT", "y": 3.32e-7, "label": "**"}]}, "mark": {"type": "text", "fontWeight": "bold", "fontSize": 10, "baseline": "bottom", "dy": 1, "color": "black"}, "encoding": {"x": {"field": "mid", "type": "nominal"}, "y": {"field": "y", "type": "quantitative", "title": "Ifih1/rn18s"}, "text": {"field": "label"}}}
      ]},
     {"width": 145, "height": 97, "title": "Colon", "data": {"name": "ifih1_col"},
      "layer": [
       {"mark": {"type": "point", "filled": true, "color": "black", "size": 22, "opacity": 1},
        "encoding": {
         "x": {"field": "group", "type": "nominal", "scale": {"type": "point", "domain": ["WT C","WT","WT RV","g1","g2","mid","KO C","KO","KO RV"], "padding": 1.5}, "axis": {"title": null, "values": ["WT","KO"], "labelAngle": 0, "labelExpr": "datum.value == 'KO' ? 'Ifih1⁻/⁻' : 'WT'", "labelFontStyle": {"condition": {"test": "datum.value == 'KO'", "value": "italic"}, "value": "normal"}}},
         "xOffset": {"field": "rep", "type": "nominal", "scale": {"type": "point", "range": [-6, 6]}},
         "y": {"field": "value", "type": "quantitative", "title": "Ifih1/rn18s", "scale": {"domain": [0, 1.5e-5], "nice": false}, "axis": {"labelOverlap": false, "titleFontStyle": "italic", "tickCount": 3, "labelExpr": "datum.value == 0 ? '0.0' : (datum.value < 9e-6 ? format(datum.value * 1e6, '.1f') + '×10⁻⁶' : format(datum.value * 1e5, '.1f') + '×10⁻⁵')"}},
         "shape": {"field": "cond", "type": "nominal", "scale": {"domain": ["C","RV"], "range": ["circle","square"]}, "legend": null}}},
       {"mark": {"type": "tick", "color": "black", "size": 20, "thickness": 1.5}, "encoding": {"x": {"field": "group", "type": "nominal"}, "y": {"aggregate": "mean", "field": "value", "type": "quantitative", "title": "Ifih1/rn18s"}}},
       {"mark": {"type": "errorbar", "extent": "stderr", "color": "black", "ticks": true, "size": 10, "thickness": 1.5}, "encoding": {"x": {"field": "group", "type": "nominal"}, "y": {"field": "value", "type": "quantitative", "title": "Ifih1/rn18s"}}},
       {"data": {"values": [{"from": "WT C", "to": "WT RV", "mid": "WT", "y": 1.38e-5, "label": "**"}]}, "mark": {"type": "rule", "color": "black", "strokeWidth": 1.5}, "encoding": {"x": {"field": "from", "type": "nominal"}, "x2": {"field": "to"}, "y": {"field": "y", "type": "quantitative", "title": "Ifih1/rn18s"}}},
       {"data": {"values": [{"from": "WT C", "to": "WT RV", "mid": "WT", "y": 1.38e-5, "label": "**"}]}, "mark": {"type": "text", "fontWeight": "bold", "fontSize": 10, "baseline": "bottom", "dy": 1, "color": "black"}, "encoding": {"x": {"field": "mid", "type": "nominal"}, "y": {"field": "y", "type": "quantitative", "title": "Ifih1/rn18s"}, "text": {"field": "label"}}}
      ]}
    ]
   },
   {
    "title": {"text": "D", "anchor": "start", "fontSize": 15, "offset": 0, "dy": 40},
    "spacing": 31,
    "resolve": {"scale": {"shape": "independent"}, "legend": {"shape": "independent"}},
    "vconcat": [
     {"width": 145, "height": 97, "title": {"text": "Ifnb1", "subtitle": "Pancreas", "fontSize": 18, "fontStyle": "italic"}, "data": {"name": "ifnb1_pan"},
      "layer": [
       {"mark": {"type": "point", "filled": true, "color": "black", "size": 22, "opacity": 1},
        "encoding": {
         "x": {"field": "group", "type": "nominal", "scale": {"type": "point", "domain": ["WT C","WT","WT RV","g1","g2","mid","KO C","KO","KO RV"], "padding": 1.5}, "axis": {"title": null, "values": ["WT","KO"], "labelAngle": 0, "labelExpr": "datum.value == 'KO' ? 'Ifih1⁻/⁻' : 'WT'", "labelFontStyle": {"condition": {"test": "datum.value == 'KO'", "value": "italic"}, "value": "normal"}}},
         "xOffset": {"field": "rep", "type": "nominal", "scale": {"type": "point", "range": [-6, 6]}},
         "y": {"field": "value", "type": "quantitative", "title": "Ifnb1/rn18s", "scale": {"domain": [0, 2.5e-5], "nice": false}, "axis": {"labelOverlap": false, "titleFontStyle": "italic", "tickCount": 5, "labelExpr": "datum.value == 0 ? '0.0' : (datum.value < 9e-6 ? format(datum.value * 1e6, '.1f') + '×10⁻⁶' : format(datum.value * 1e5, '.1f') + '×10⁻⁵')"}},
         "shape": {"field": "cond", "type": "nominal", "scale": {"domain": ["C","RV"], "range": ["circle","square"]}, "legend": {"title": null, "orient": "right", "offset": 6, "labelFontSize": 11, "labelFontWeight": "normal", "symbolSize": 30, "rowPadding": 1, "padding": 0, "symbolFillColor": "black", "symbolStrokeColor": "black"}}}},
       {"mark": {"type": "tick", "color": "black", "size": 20, "thickness": 1.5}, "encoding": {"x": {"field": "group", "type": "nominal"}, "y": {"aggregate": "mean", "field": "value", "type": "quantitative", "title": "Ifnb1/rn18s"}}},
       {"mark": {"type": "errorbar", "extent": "stderr", "color": "black", "ticks": true, "size": 10, "thickness": 1.5}, "encoding": {"x": {"field": "group", "type": "nominal"}, "y": {"field": "value", "type": "quantitative", "title": "Ifnb1/rn18s"}}},
       {"data": {"values": [{"from": "WT C", "to": "WT RV", "mid": "WT", "y": 1.975e-5, "label": "**"}, {"from": "WT RV", "to": "KO RV", "mid": "mid", "y": 2.34e-5, "label": "**"}, {"from": "KO C", "to": "KO RV", "mid": "KO", "y": 6.4e-6, "label": "NS"}]}, "mark": {"type": "rule", "color": "black", "strokeWidth": 1.5}, "encoding": {"x": {"field": "from", "type": "nominal"}, "x2": {"field": "to"}, "y": {"field": "y", "type": "quantitative", "title": "Ifnb1/rn18s"}}},
       {"data": {"values": [{"from": "WT C", "to": "WT RV", "mid": "WT", "y": 1.975e-5, "label": "**"}, {"from": "WT RV", "to": "KO RV", "mid": "mid", "y": 2.34e-5, "label": "**"}, {"from": "KO C", "to": "KO RV", "mid": "KO", "y": 6.4e-6, "label": "NS"}]}, "mark": {"type": "text", "fontWeight": "bold", "fontSize": 10, "baseline": "bottom", "dy": 0, "color": "black"}, "encoding": {"x": {"field": "mid", "type": "nominal"}, "y": {"field": "y", "type": "quantitative", "title": "Ifnb1/rn18s"}, "text": {"field": "label"}}}
      ]},
     {"width": 145, "height": 97, "title": "Colon", "data": {"name": "ifnb1_col"},
      "layer": [
       {"mark": {"type": "point", "filled": true, "color": "black", "size": 22, "opacity": 1},
        "encoding": {
         "x": {"field": "group", "type": "nominal", "scale": {"type": "point", "domain": ["WT C","WT","WT RV","g1","g2","mid","KO C","KO","KO RV"], "padding": 1.5}, "axis": {"title": null, "values": ["WT","KO"], "labelAngle": 0, "labelExpr": "datum.value == 'KO' ? 'Ifih1⁻/⁻' : 'WT'", "labelFontStyle": {"condition": {"test": "datum.value == 'KO'", "value": "italic"}, "value": "normal"}}},
         "xOffset": {"field": "rep", "type": "nominal", "scale": {"type": "point", "range": [-6, 6]}},
         "y": {"field": "value", "type": "quantitative", "title": "Ifnb1/rn18s", "scale": {"domain": [0, 4e-5], "nice": false}, "axis": {"labelOverlap": false, "titleFontStyle": "italic", "tickCount": 4, "labelExpr": "datum.value == 0 ? '0' : format(datum.value * 1e5, 'd') + '×10⁻⁵'"}},
         "shape": {"field": "cond", "type": "nominal", "scale": {"domain": ["C","RV"], "range": ["circle","square"]}, "legend": null}}},
       {"mark": {"type": "tick", "color": "black", "size": 20, "thickness": 1.5}, "encoding": {"x": {"field": "group", "type": "nominal"}, "y": {"aggregate": "mean", "field": "value", "type": "quantitative", "title": "Ifnb1/rn18s"}}},
       {"mark": {"type": "errorbar", "extent": "stderr", "color": "black", "ticks": true, "size": 10, "thickness": 1.5}, "encoding": {"x": {"field": "group", "type": "nominal"}, "y": {"field": "value", "type": "quantitative", "title": "Ifnb1/rn18s"}}},
       {"data": {"values": [{"from": "WT C", "to": "WT RV", "mid": "WT", "y": 3.48e-5, "label": "**"}, {"from": "WT RV", "to": "KO RV", "mid": "mid", "y": 3.78e-5, "label": "*"}, {"from": "KO C", "to": "KO RV", "mid": "KO", "y": 2.77e-5, "label": "**"}]}, "mark": {"type": "rule", "color": "black", "strokeWidth": 1.5}, "encoding": {"x": {"field": "from", "type": "nominal"}, "x2": {"field": "to"}, "y": {"field": "y", "type": "quantitative", "title": "Ifnb1/rn18s"}}},
       {"data": {"values": [{"from": "WT C", "to": "WT RV", "mid": "WT", "y": 3.48e-5, "label": "**"}, {"from": "WT RV", "to": "KO RV", "mid": "mid", "y": 3.78e-5, "label": "*"}, {"from": "KO C", "to": "KO RV", "mid": "KO", "y": 2.77e-5, "label": "**"}]}, "mark": {"type": "text", "fontWeight": "bold", "fontSize": 10, "baseline": "bottom", "dy": 1, "color": "black"}, "encoding": {"x": {"field": "mid", "type": "nominal"}, "y": {"field": "y", "type": "quantitative", "title": "Ifnb1/rn18s"}, "text": {"field": "label"}}}
      ]}
    ]
   }
  ]
 }
]
}
